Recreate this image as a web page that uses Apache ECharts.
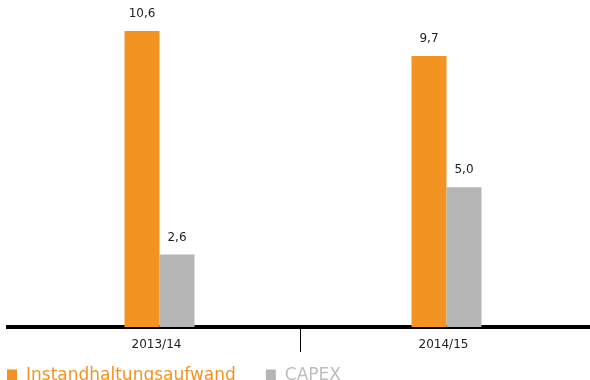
<!DOCTYPE html>
<html>
<head>
<meta charset="utf-8">
<script src="https://cdn.jsdelivr.net/npm/echarts@6/dist/echarts.min.js"></script>
<style>html,body{margin:0;padding:0;background:#fff}#c{width:590px;height:380px}</style>
</head>
<body>
<div id="c"></div>
<script>
const categories = ['2013/14', '2014/15'];
const seriesNames = ['Instandhaltungsaufwand', 'CAPEX'];
const instandhaltung = [10.6, 9.7];
const capex = [2.6, 5.0];
const colors = ['#F39322', '#B5B5B6'];

const fmt = p => String(p.value.toFixed(1)).replace('.', ',');
const font = '"DejaVu Sans", sans-serif';

const chart = echarts.init(document.getElementById('c'));
chart.setOption({
  animation: false,
  grid: { left: 16, right: 0, top: 3, bottom: 53, containLabel: false },
  legend: {
    left: 2, top: 362, itemWidth: 10, itemHeight: 12, itemGap: 30,
    icon: 'rect',
    data: [
      { name: seriesNames[0], textStyle: { color: colors[0] } },
      { name: seriesNames[1], textStyle: { color: '#BDBDBD' } }
    ],
    textStyle: { fontSize: 17, fontFamily: font, padding: [0, 0, 0, 4] }
  },
  xAxis: {
    type: 'category',
    data: categories,
    axisLine: { lineStyle: { color: '#000', width: 4 } },
    axisTick: { show: false },
    axisLabel: { color: '#222', fontSize: 12, fontFamily: font, margin: 12, padding: [0, 6, 0, 0] }
  },
  yAxis: {
    type: 'value', min: 0, max: 11.6,
    show: false, splitLine: { show: false }
  },
  graphic: [
    { type: 'line', shape: { x1: 6, y1: 327, x2: 17, y2: 327 }, style: { stroke: '#000', lineWidth: 4 } },
    { type: 'line', shape: { x1: 300.5, y1: 329, x2: 300.5, y2: 352 }, style: { stroke: '#000', lineWidth: 1 } }
  ],
  series: [
    {
      name: seriesNames[0], type: 'bar', data: instandhaltung, barWidth: 35, barGap: '0%',
      itemStyle: { color: colors[0] },
      label: { show: true, position: 'top', distance: 11, color: '#222', fontSize: 12, fontFamily: font, formatter: fmt }
    },
    {
      name: seriesNames[1], type: 'bar', data: capex, barWidth: 35, barGap: '0%',
      itemStyle: { color: colors[1] },
      label: { show: true, position: 'top', distance: 11, color: '#222', fontSize: 12, fontFamily: font, formatter: fmt }
    }
  ]
});
</script>
</body>
</html>
